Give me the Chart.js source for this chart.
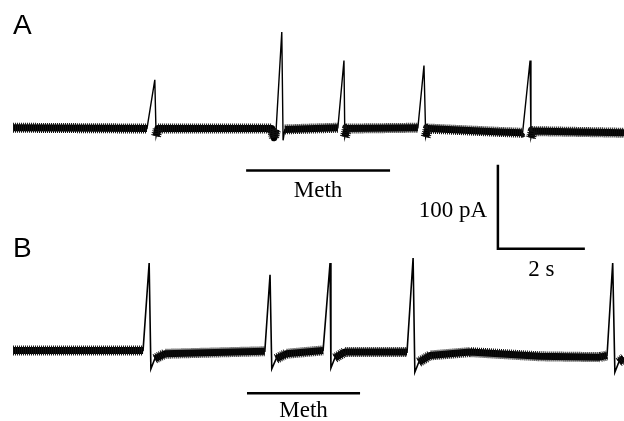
<!DOCTYPE html>
<html>
<head>
<meta charset="utf-8">
<script src="https://cdn.jsdelivr.net/npm/chart.js@4/dist/chart.umd.min.js"></script>
<style>
  html, body { margin: 0; padding: 0; background: #fff; }
  canvas { display: block; }
</style>
</head>
<body>
<canvas id="trace" width="624" height="421"></canvas>
<script>
// time in s, current in pA relative to the baseline of each trace
const traceATime    = [0, 3.08, 3.26, 3.29, 3.33, 5.95, 6.00, 6.05, 6.18, 6.21, 6.25, 7.47, 7.61, 7.63, 7.68, 9.31, 9.45, 9.49, 9.54, 11.20, 11.70, 11.72, 11.89, 11.91, 11.95, 13.03, 14.05];
const traceACurrent = [0, -1, 57, -10, -1, -1, -12, -2, 114, -15, -2, 0, 80, -11, -1, 0, 74, -11, -1, -5, -6, -5, 80, -12, -4, -5, -6];

const traceBTime    = [0, 2.99, 3.13, 3.17, 3.26, 3.49, 5.79, 5.91, 5.95, 6.05, 6.28, 7.13, 7.29, 7.31, 7.40, 7.63, 9.06, 9.20, 9.24, 9.33, 9.59, 10.51, 12.11, 13.49, 13.66, 13.79, 13.84, 13.93, 14.05];
const traceBCurrent = [2, 2, 106, -20, -8, -2, 1, 92, -20, -8, -2, 2, 106, -19, -7, 0, 0, 112, -24, -12, -4, 0, -5, -6, -4, 106, -24, -12, -7];

const methA = [5.36, 8.67];   // s, drug application
const methB = [5.38, 7.98];
const scaleCurrent = 100;     // pA
const scaleTime = 2;          // s

// layout (data units)
const offsetB = -267;
const methLevel = -51;
const scaleCorner = { x: 11.15, y: -144 };

const toPoints = (times, values, shift) => times.map((t, i) => ({ x: t, y: values[i] + shift }));
// thick band stands in for the recording noise, left out at spikes and deep undershoots
const toBand = (times, values, shift) => times.map((t, i) => ({ x: t, y: Math.abs(values[i]) > 12.5 ? null : values[i] + shift }));

const line = (data, width, extra = {}) => Object.assign({
  data,
  borderColor: '#000',
  borderWidth: width,
  pointRadius: 0,
  tension: 0,
  spanGaps: false
}, extra);

const noiseEdge = { borderColor: '#111', borderDash: [1, 1], borderJoinStyle: 'round' };
const noiseCore = { borderColor: '#000', borderJoinStyle: 'round' };

const sans = '28px "Liberation Sans", Arial, sans-serif';
const serif = '23px "Liberation Serif", "Times New Roman", serif';

const labels = [
  { text: 'A', x: 0, y: 112, font: sans, align: 'left' },
  { text: 'B', x: 0, y: 113 + offsetB, font: sans, align: 'left' },
  { text: 'Meth', x: (methA[0] + methA[1]) / 2, y: -82, font: serif, align: 'center' },
  { text: 'Meth', x: (methB[0] + methB[1]) / 2, y: -77 + offsetB, font: serif, align: 'center' },
  { text: `${scaleCurrent} pA`, x: 10.9, y: -106, font: serif, align: 'right' },
  { text: `${scaleTime} s`, x: scaleCorner.x + scaleTime / 2, y: -177, font: serif, align: 'center' }
];

const figureText = {
  id: 'figureText',
  afterDatasetsDraw(chart) {
    const { ctx, scales: { x, y } } = chart;
    ctx.save();
    ctx.fillStyle = '#000';
    ctx.textBaseline = 'alphabetic';
    labels.forEach(l => {
      ctx.font = l.font;
      ctx.textAlign = l.align;
      ctx.fillText(l.text, x.getPixelForValue(l.x), y.getPixelForValue(l.y));
    });
    ctx.restore();
  }
};

const startChart = () => new Chart(document.getElementById('trace'), {
  type: 'line',
  data: {
    datasets: [
      line(toBand(traceATime, traceACurrent, 0), 10, noiseEdge),
      line(toBand(traceATime, traceACurrent, 0), 7, noiseCore),
      line(toPoints(traceATime, traceACurrent, 0), 1.4),
      line(toBand(traceBTime, traceBCurrent, offsetB), 10, noiseEdge),
      line(toBand(traceBTime, traceBCurrent, offsetB), 7, noiseCore),
      line(toPoints(traceBTime, traceBCurrent, offsetB), 1.6),
      line(methA.map(t => ({ x: t, y: methLevel })), 2.5),
      line(methB.map(t => ({ x: t, y: methLevel + 2 + offsetB })), 2.5),
      line([
        { x: scaleCorner.x, y: scaleCorner.y + scaleCurrent },
        { x: scaleCorner.x, y: scaleCorner.y },
        { x: scaleCorner.x + scaleTime, y: scaleCorner.y }
      ], 2.5, { borderJoinStyle: 'miter' })
    ]
  },
  options: {
    responsive: false,
    animation: false,
    layout: { padding: 0 },
    plugins: { legend: { display: false }, tooltip: { enabled: false } },
    scales: {
      x: { type: 'linear', min: -0.3, max: 14.05, display: false },
      y: { type: 'linear', min: -349, max: 152, display: false }
    }
  },
  plugins: [figureText]
});

startChart();
</script>
</body>
</html>
